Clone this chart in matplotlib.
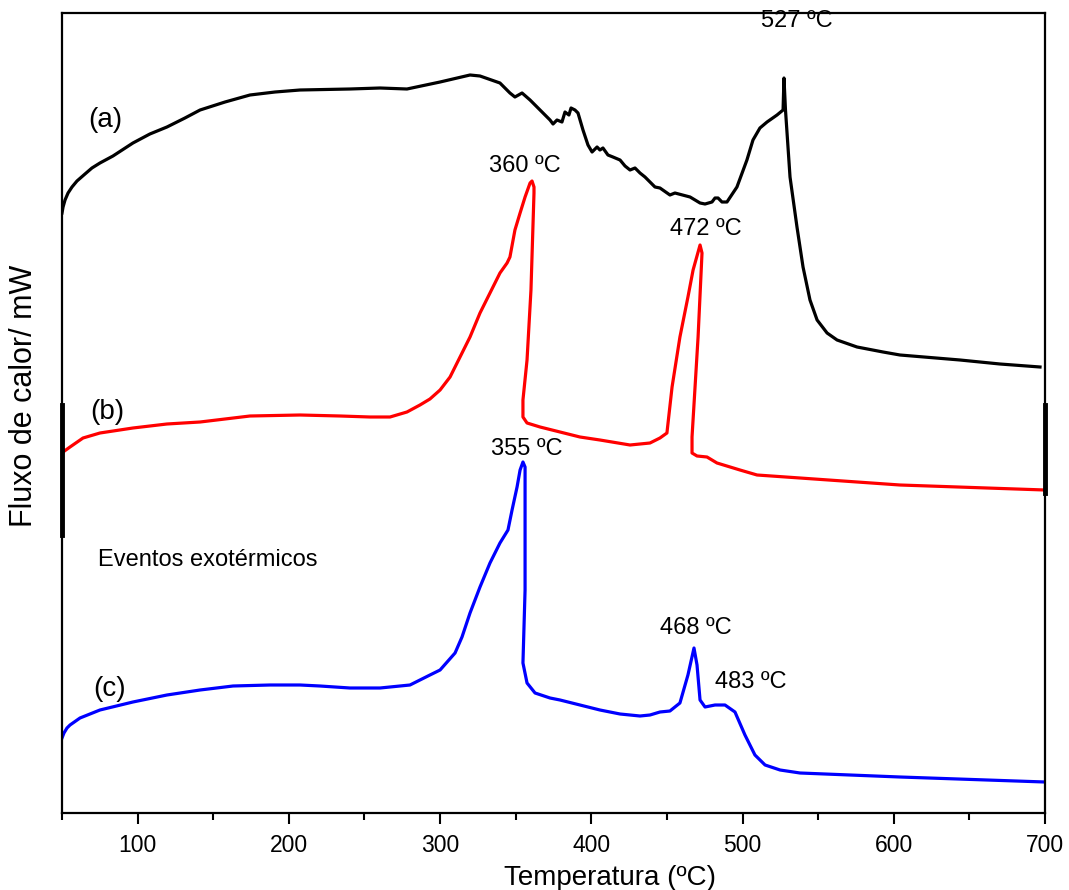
import matplotlib
matplotlib.use("Agg")
import matplotlib.pyplot as plt
from matplotlib.ticker import MultipleLocator

plt.rcParams['font.family'] = ['Liberation Sans', 'DejaVu Sans']

# ---- data (temperature in ºC, heat flow in arbitrary offset units) ----
temp_a = [50, 50.7, 52.0, 54.0, 56.6, 59.9, 65.2, 69.8, 75.1, 83.7, 96.9, 108.1, 119.4,
          131.3, 141.3, 157.8, 174.3, 190.9, 207.4, 240.4, 260.3, 278.1,
          300.0, 319.8, 326.4, 339.6, 346.2, 349.5, 354.2, 359.5, 366.1, 372.7, 374.7,
          377.3, 380.6, 382.6, 385.2, 386.6, 389.2, 391.2, 394.5, 397.8, 400.5, 403.8,
          405.7, 407.7, 411.0, 414.3, 419.0, 422.3, 425.6, 428.9, 432.2, 435.5, 438.8,
          442.1, 445.4, 452.0, 455.3, 465.3, 471.9, 475.2, 479.8, 481.8, 483.8, 486.4,
          489.7, 496.3, 502.9, 506.9, 511.5, 516.2, 522.8, 526.8,
          527.4, 528.4, 531.4, 536.0, 540.0, 544.6, 549.3, 555.9, 562.5, 575.7,
          592.9, 604.1, 643.8, 670.2, 696.7]
flux_a = [600, 606, 613, 620, 626, 632, 639, 645, 650, 657, 670, 679, 686,
          695, 703, 711, 718, 721, 723, 724, 725, 724,
          731, 738, 737, 730, 720, 716, 720, 713, 703, 693, 689,
          693, 691, 701, 698, 705, 703, 700, 683, 668, 661, 666,
          663, 665, 658, 656, 653, 647, 643, 645, 640, 636, 631,
          626, 625, 618, 620, 616, 610, 609, 611, 615, 615, 611,
          611, 626, 653, 673, 685, 691, 698, 703,
          735, 703, 636, 586, 546, 513, 493, 480, 473, 466,
          461, 458, 453, 449, 446]

temp_b = [50, 50.7, 55.3, 63.9, 75.1, 96.9, 119.4, 141.3, 174.3, 207.4, 234.0, 253.6,
          266.9, 278.1, 286.7, 293.3, 300.0, 306.6, 313.2, 319.8, 326.4, 333.0, 339.6, 344.3,
          346.2, 349.5, 352.9, 356.2, 359.5, 360.8, 362.1, 362.1, 360.1, 357.5, 354.8,
          354.8, 357.5, 366.1, 379.3, 392.5, 405.7, 425.6, 438.8, 445.4, 450.0, 453.4,
          458.6, 463.9, 467.3, 471.9, 473.2, 470.6, 468.6, 466.6, 466.6, 469.9, 476.5,
          483.1, 498.3, 509.6, 538.0, 604.1, 700]
flux_b = [358, 361, 366, 375, 380, 385, 389, 391, 397, 398, 397, 396,
          396, 401, 408, 414, 423, 436, 456, 476, 500, 520, 540, 550,
          556, 583, 600, 616, 630, 632, 626, 620, 523, 453, 413,
          396, 390, 386, 381, 376, 373, 368, 370, 375, 380, 426,
          476, 516, 543, 568, 560, 476, 426, 376, 360, 357, 356,
          350, 343, 338, 335, 328, 323]

temp_c = [50, 51.3, 53.3, 55.3, 61.9, 75.1, 96.9, 119.4, 141.3, 163.1, 187.5, 207.4, 220.6,
          240.4, 260.3, 273.5, 280.1, 286.7, 293.3, 300.0, 309.9, 314.5, 319.8, 326.4, 333.0,
          339.6, 344.9, 347.6, 350.9, 352.9, 354.8, 356.2, 356.2, 354.8, 357.5, 362.8,
          372.7, 379.3, 392.5, 405.7, 419.0, 432.2, 438.8, 445.4, 452.0, 458.6, 463.9,
          467.9, 469.9, 471.9, 475.2, 481.8, 488.4, 495.0, 501.6, 508.2, 514.9, 524.8,
          538.0, 604.1, 700]
flux_c = [75, 80, 85, 88, 95, 103, 111, 118, 123, 127, 128, 128, 127,
          125, 125, 127, 128, 133, 138, 143, 160, 176, 200, 226, 250,
          270, 283, 303, 326, 343, 351, 346, 223, 150, 130, 120,
          115, 113, 108, 103, 99, 97, 98, 101, 102, 110, 138,
          165, 148, 113, 106, 108, 108, 101, 78, 58, 48, 43,
          40, 36, 31]

curve_labels = ["(a)", "(b)", "(c)"]
peak_labels = ["527 ºC", "360 ºC", "472 ºC", "355 ºC", "468 ºC", "483 ºC"]
x_ticks = [100, 200, 300, 400, 500, 600, 700]

# ---- figure ----
fig = plt.figure(figsize=(10.69, 8.90), dpi=100)
ax = fig.add_axes([62/1069, 77/890, (1045-62)/1069, (813-13)/890])

lw = 2.3
ax.plot(temp_a, flux_a, color='black', lw=lw, solid_joinstyle='round')
ax.plot(temp_b, flux_b, color='#ff0000', lw=lw, solid_joinstyle='round')
ax.plot(temp_c, flux_c, color='#0000ff', lw=lw, solid_joinstyle='round')

ax.set_xlim(50, 700)
ax.set_ylim(0, 800)
ax.set_yticks([])
ax.set_xticks(x_ticks)
ax.xaxis.set_minor_locator(MultipleLocator(50))
ax.tick_params(axis='x', which='major', direction='out', length=8, width=1.5,
               labelsize=16.5, pad=7)
ax.tick_params(axis='x', which='minor', direction='out', length=5, width=1.5)
for s in ax.spines.values():
    s.set_linewidth(1.6)

# thicker spine segments seen in the original
ax.axvline(50, ymin=0.3475, ymax=0.51, color='black', lw=3.5, clip_on=False)
ax.axvline(700, ymin=0.40, ymax=0.51, color='black', lw=3.5, clip_on=False)

# curve labels
fs_lab = 20
ax.text(78.4, 693, curve_labels[0], fontsize=fs_lab, ha='center', va='center')
ax.text(79.8, 401, curve_labels[1], fontsize=fs_lab, ha='center', va='center')
ax.text(81.7, 124, curve_labels[2], fontsize=fs_lab, ha='center', va='center')

# peak annotations
fs_pk = 17
ax.text(536.0, 792, peak_labels[0], fontsize=fs_pk, ha='center', va='center', clip_on=False)
ax.text(356.2, 647, peak_labels[1], fontsize=fs_pk, ha='center', va='center')
ax.text(475.8, 584, peak_labels[2], fontsize=fs_pk, ha='center', va='center')
ax.text(357.5, 364, peak_labels[3], fontsize=fs_pk, ha='center', va='center')
ax.text(469.2, 185, peak_labels[4], fontsize=fs_pk, ha='center', va='center')
ax.text(505.6, 131, peak_labels[5], fontsize=fs_pk, ha='center', va='center')

ax.text(73.8, 253, "Eventos exotérmicos", fontsize=17, ha='left', va='center')

fig.text(610/1069, 1 - 878/890, "Temperatura (ºC)", fontsize=20, ha='center', va='center')
fig.text(24/1069, 1 - 396/890, "Fluxo de calor/ mW", fontsize=22, rotation=90,
         ha='center', va='center')

fig.savefig("out.png", dpi=100)
